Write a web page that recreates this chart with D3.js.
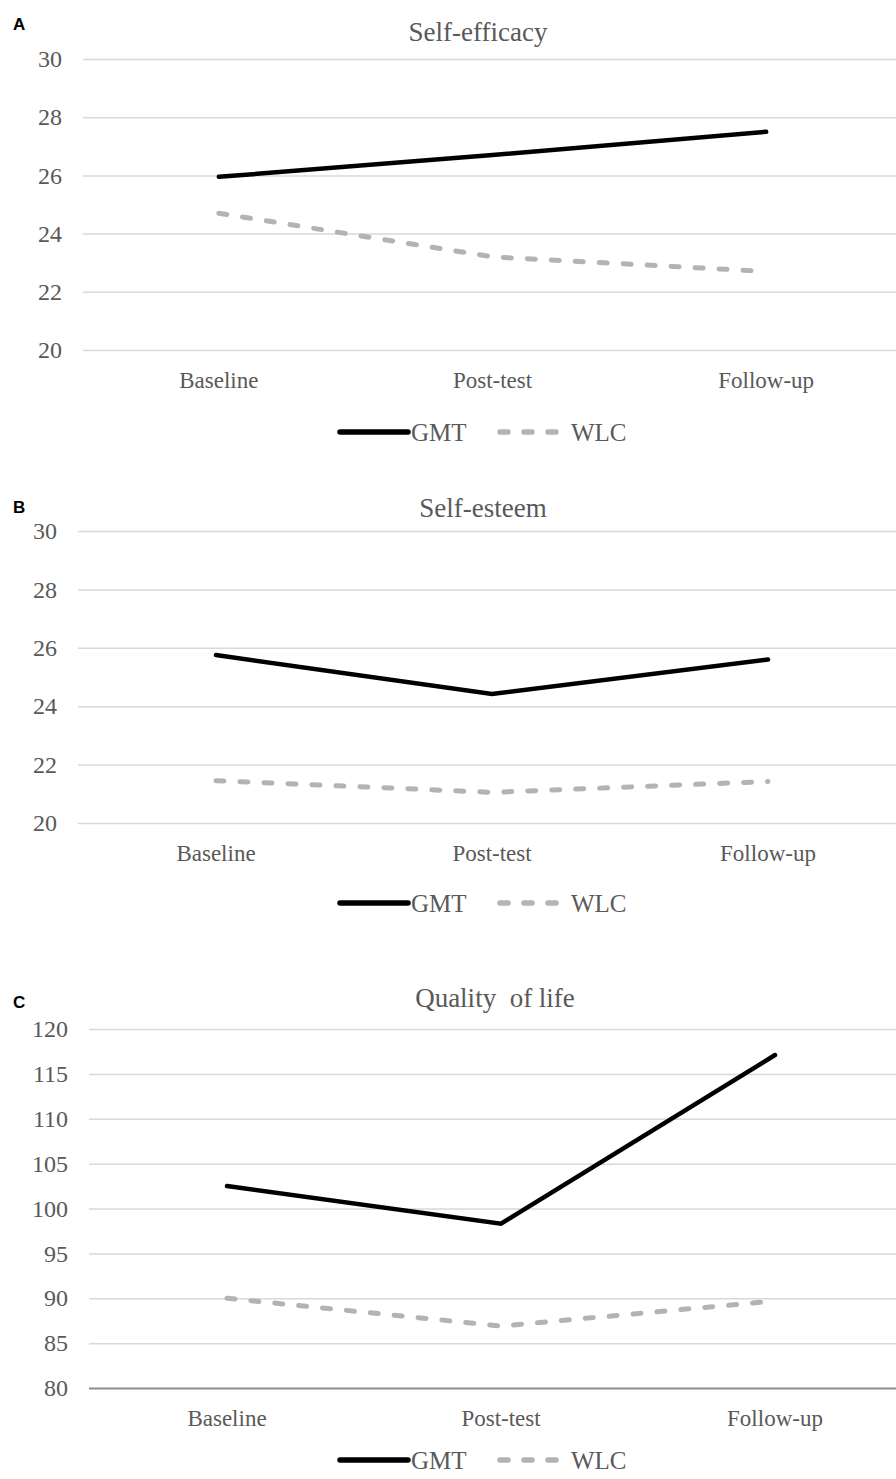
<!DOCTYPE html>
<html lang="en">
<head>
<meta charset="UTF-8">
<title>GMT vs WLC</title>
<script src="https://cdn.jsdelivr.net/npm/d3@7"></script>
<style>
    body { margin: 0; background: #fff; }
</style>
</head>
<body>
<svg id="main" width="896" height="1479"></svg>
<script>
    const categories = ['Baseline', 'Post-test', 'Follow-up'];
    const seriesNames = ['GMT', 'WLC'];

    const efficacyGMT = [25.95, 26.7, 27.5];
    const efficacyWLC = [24.7, 23.2, 22.7];
    const esteemGMT = [25.75, 24.42, 25.6];
    const esteemWLC = [21.45, 21.05, 21.42];
    const qolGMT = [102.5, 98.3, 117.1];
    const qolWLC = [90.0, 86.9, 89.7];

    const scoreTicks = [20, 22, 24, 26, 28, 30];
    const qolTicks = [80, 85, 90, 95, 100, 105, 110, 115, 120];

    let svg = d3.select('svg#main');
    const W = 896;
    const serif = "'Liberation Serif', 'Times New Roman', serif";
    const textGrey = '#595959';

    // layout of each of the three panels
    const panels = [
        {letter: 'A', title: 'Self-efficacy', gmt: efficacyGMT, wlc: efficacyWLC, ticks: scoreTicks,
            top: 59, bottom: 350, left: 83, xRange: [82, 903], titleX: 478, titleY: 32, letterY: 30,
            catY: 380, legendY: 432, axisLine: false},
        {letter: 'B', title: 'Self-esteem', gmt: esteemGMT, wlc: esteemWLC, ticks: scoreTicks,
            top: 531, bottom: 823, left: 78, xRange: [78, 906], titleX: 483, titleY: 508, letterY: 513,
            catY: 853, legendY: 903, axisLine: false},
        {letter: 'C', title: 'Quality  of life', gmt: qolGMT, wlc: qolWLC, ticks: qolTicks,
            top: 1029, bottom: 1388, left: 89, xRange: [90, 912], titleX: 495, titleY: 998, letterY: 1008,
            catY: 1418, legendY: 1460, axisLine: true}
    ];

    panels.forEach(function(p) {
        let g = svg.append('g');

        let yScale = d3.scaleLinear()
            .domain(d3.extent(p.ticks))
            .range([p.bottom, p.top]);
        let xScale = d3.scaleBand()
            .domain(categories)
            .range(p.xRange)
            .padding(0);
        let cx = c => xScale(c) + xScale.bandwidth() / 2;

        // gridlines + tick labels
        let yAxis = g.append('g')
            .attr('transform', 'translate(' + p.left + ',0)')
            .call(d3.axisLeft(yScale).tickValues(p.ticks).tickSize(-(W - p.left)).tickPadding(21));
        yAxis.select('.domain').remove();
        yAxis.selectAll('line')
            .attr('stroke', '#d9d9d9')
            .attr('stroke-width', 1.5);
        yAxis.selectAll('text')
            .attr('fill', textGrey)
            .style('font-family', serif)
            .style('font-size', '24px');
        if (p.axisLine) {
            yAxis.selectAll('.tick')
                .filter(d => d === p.ticks[0])
                .select('line')
                .attr('stroke', '#8c8c8c')
                .attr('stroke-width', 2);
        }

        // category labels
        let xAxis = g.append('g')
            .attr('transform', 'translate(0,' + p.bottom + ')')
            .call(d3.axisBottom(xScale).tickSize(0));
        xAxis.select('.domain').remove();
        xAxis.selectAll('text')
            .attr('y', p.catY - p.bottom)
            .attr('dy', '0.35em')
            .attr('fill', textGrey)
            .style('font-family', serif)
            .style('font-size', '23px');

        // title and panel letter
        g.append('text')
            .attr('x', p.titleX).attr('y', p.titleY).attr('dy', '0.35em')
            .attr('text-anchor', 'middle')
            .attr('fill', textGrey)
            .style('font-family', serif).style('font-size', '27px')
            .style('white-space', 'pre')
            .text(p.title);
        g.append('text')
            .attr('x', 13).attr('y', p.letterY)
            .attr('fill', '#000')
            .style('font-family', "'Liberation Sans', Arial, sans-serif")
            .style('font-size', '17px').style('font-weight', 'bold')
            .text(p.letter);

        // series lines
        let line = d3.line()
            .x((d, i) => cx(categories[i]))
            .y(d => yScale(d));
        g.append('path')
            .datum(p.wlc)
            .attr('d', line)
            .attr('fill', 'none')
            .attr('stroke', '#b3b3b3')
            .attr('stroke-width', 5)
            .attr('stroke-linecap', 'round')
            .attr('stroke-dasharray', '8 16');
        g.append('path')
            .datum(p.gmt)
            .attr('d', line)
            .attr('fill', 'none')
            .attr('stroke', '#000')
            .attr('stroke-width', 4.5)
            .attr('stroke-linecap', 'round');

        // legend
        let leg = g.append('g').attr('transform', 'translate(0,' + p.legendY + ')');
        leg.append('line')
            .attr('x1', 340).attr('x2', 408)
            .attr('stroke', '#000').attr('stroke-width', 5.5).attr('stroke-linecap', 'round');
        leg.append('line')
            .attr('x1', 500).attr('x2', 562)
            .attr('stroke', '#b3b3b3').attr('stroke-width', 5.5)
            .attr('stroke-linecap', 'round').attr('stroke-dasharray', '8 16');
        leg.selectAll('text.lg')
            .data(seriesNames)
            .enter().append('text')
            .attr('class', 'lg')
            .attr('x', (d, i) => i === 0 ? 411 : 571)
            .attr('dy', '0.35em')
            .attr('fill', textGrey)
            .style('font-family', serif).style('font-size', '25px')
            .text(d => d);
    });
</script>
</body>
</html>
